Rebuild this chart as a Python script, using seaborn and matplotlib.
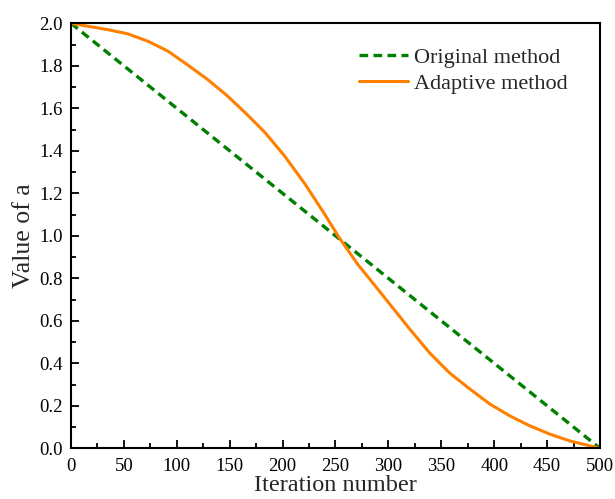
import matplotlib
matplotlib.use("Agg")
import matplotlib.pyplot as plt
from matplotlib.ticker import MultipleLocator, FormatStrFormatter
import seaborn as sns
import pandas as pd

orig_iter = [0, 500]
original = [2.0, 0.0]

adap_iter = [0, 16, 35, 54, 73, 92, 110, 129, 147, 165, 183, 202, 221, 240,
             253, 271, 290, 302, 320, 339, 358, 377, 396, 415, 434, 453, 472, 500]
adaptive = [2.0, 1.986, 1.970, 1.950, 1.915, 1.868, 1.805, 1.736, 1.662, 1.578,
            1.488, 1.375, 1.245, 1.10, 0.995, 0.866, 0.749, 0.674, 0.562, 0.449,
            0.354, 0.279, 0.208, 0.152, 0.105, 0.066, 0.034, 0.0]

df_o = pd.DataFrame({"iter": orig_iter, "val": original})
df_a = pd.DataFrame({"iter": adap_iter, "val": adaptive})

sns.set_style("ticks")
plt.rcParams["font.family"] = ["Liberation Serif", "DejaVu Serif"]

fig = plt.figure(figsize=(6.15, 4.99), dpi=100)
ax = fig.add_axes([0.1154, 0.1016, 0.8602, 0.8517])

sns.lineplot(data=df_o, x="iter", y="val", ax=ax, color="#008000", lw=2.4,
             label="Original method")
ax.lines[-1].set_dashes((2.6, 1.6))
sns.lineplot(data=df_a, x="iter", y="val", ax=ax, color="#ff8000", lw=2.2,
             label="Adaptive method")
for ln in ax.lines:
    ln.set_solid_joinstyle("round")

ax.set_xlim(0, 500)
ax.set_ylim(0, 2.0)
ax.xaxis.set_major_locator(MultipleLocator(50))
ax.xaxis.set_minor_locator(MultipleLocator(25))
ax.yaxis.set_major_locator(MultipleLocator(0.2))
ax.yaxis.set_minor_locator(MultipleLocator(0.1))
ax.yaxis.set_major_formatter(FormatStrFormatter("%.1f"))

ax.tick_params(which="both", direction="in", top=False, right=False,
               width=1.3, colors="black", labelsize=13.5)
ax.tick_params(axis="x", which="major", length=6, pad=7)
ax.tick_params(axis="y", which="major", length=6, pad=6)
ax.tick_params(which="minor", length=3.5)
for s in ax.spines.values():
    s.set_linewidth(1.5)
    s.set_color("black")

ax.set_xlabel("Iteration number", fontsize=17.5, labelpad=0)
ax.set_ylabel("Value of a", fontsize=18.5, labelpad=3)

leg = ax.legend(loc="upper right", frameon=False, fontsize=16,
                handlelength=2.2, handletextpad=0.25, labelspacing=0.25,
                bbox_to_anchor=(0.955, 0.965), borderaxespad=0.0)

fig.savefig("out.png", dpi=100)
